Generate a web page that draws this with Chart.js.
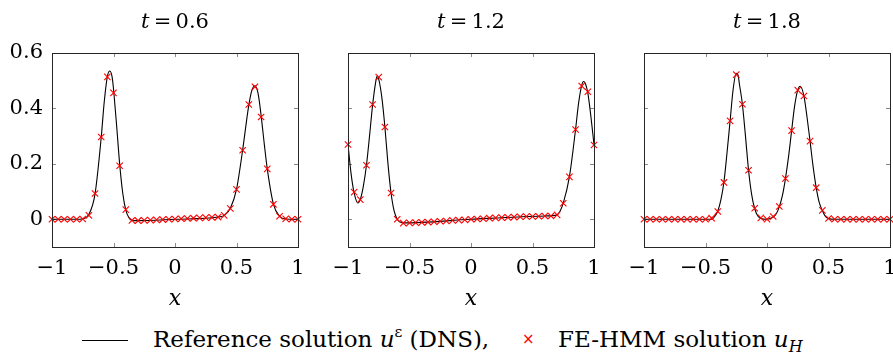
<!DOCTYPE html>
<html>
<head>
<meta charset="utf-8">
<script src="https://cdn.jsdelivr.net/npm/chart.js@4.4.1/dist/chart.umd.min.js"></script>
<style>
  html,body{margin:0;padding:0;background:#fff;overflow:hidden;}
  #wrap{position:relative;width:893px;height:354px;font-family:'DejaVu Serif',serif;color:#000;}
  canvas{position:absolute;top:0;}
  .ttl{position:absolute;top:7px;width:246px;text-align:center;font-size:21px;line-height:28px;}
  .ttl i{font-style:italic;}
  #legend{position:absolute;top:325px;left:0;width:893px;height:29px;font-size:23px;line-height:28px;}
  #legend span{position:absolute;white-space:nowrap;top:0;}
  .lsample{position:absolute;left:82px;top:15px;width:46px;height:0;border-top:1px solid #000;}
</style>
</head>
<body>
<div id="wrap">
  <canvas id="c1" width="310" height="320" style="left:0px"></canvas>
  <canvas id="c2" width="310" height="320" style="left:296px"></canvas>
  <canvas id="c3" width="310" height="320" style="left:592px"></canvas>
  <div class="ttl" style="left:52px" id="t1"></div>
  <div class="ttl" style="left:348px" id="t2"></div>
  <div class="ttl" style="left:644px" id="t3"></div>
  <div id="legend">
    <div class="lsample"></div>
    <span id="leg1" style="left:153px"></span>
    <span style="left:522px;color:#ff0000;font-size:15px;font-family:'DejaVu Sans',sans-serif;">×</span>
    <span id="leg2" style="left:558px"></span>
  </div>
</div>
<script>
// ---- data ----
const times = ['0.6', '1.2', '1.8'];
const xTicks = [-1, -0.5, 0, 0.5, 1];
const yTicks = [0, 0.2, 0.4, 0.6];

// FE-HMM marker positions
const xH = [-1, -0.95, -0.9, -0.85, -0.8, -0.75, -0.7, -0.65, -0.6, -0.55, -0.5, -0.45, -0.4, -0.35, -0.3, -0.25, -0.2, -0.15, -0.1, -0.05, 0,
            0.05, 0.1, 0.15, 0.2, 0.25, 0.3, 0.35, 0.4, 0.45, 0.5, 0.55, 0.6, 0.65, 0.7, 0.75, 0.8, 0.85, 0.9, 0.95, 1];

const uH1 = [0, 0, 0, 0, 0, 0.001, 0.014, 0.093, 0.297, 0.514, 0.456, 0.193, 0.035, -0.004, -0.005, -0.004, -0.003, -0.002, -0.001, 0, 0.001,
             0.002, 0.003, 0.004, 0.005, 0.006, 0.007, 0.008, 0.014, 0.039, 0.108, 0.249, 0.414, 0.478, 0.369, 0.182, 0.054, 0.011, 0.002, 0, 0];
const uH2 = [0.27, 0.098, 0.071, 0.195, 0.414, 0.513, 0.333, 0.095, 0.0, -0.014, -0.013, -0.012, -0.011, -0.010, -0.009, -0.007, -0.006, -0.004, -0.003, -0.002, 0,
             0.001, 0.002, 0.004, 0.005, 0.006, 0.007, 0.008, 0.009, 0.010, 0.010, 0.011, 0.012, 0.012, 0.016, 0.058, 0.153, 0.324, 0.481, 0.46, 0.268];
const uH3 = [0, 0, 0, 0, 0, 0, 0, 0, 0, 0, 0, 0.004, 0.028, 0.133, 0.355, 0.522, 0.415, 0.177, 0.040, 0.005, 0.0,
             0.01, 0.046, 0.147, 0.32, 0.466, 0.445, 0.282, 0.114, 0.032, 0.003, 0, 0, 0, 0, 0, 0, 0, 0, 0, 0];

// Reference (DNS) curve
const xR1 = [-1, -0.8, -0.75, -0.7, -0.65, -0.6, -0.575, -0.55, -0.53, -0.51, -0.5, -0.475, -0.45, -0.425, -0.4, -0.375, -0.35, -0.3, 0, 0.35, 0.4, 0.45, 0.5, 0.55, 0.6, 0.625, 0.65, 0.675, 0.7, 0.725, 0.75, 0.8, 0.85, 0.9, 1];
const uR1 = [0, 0, 0.002, 0.018, 0.092, 0.295, 0.425, 0.515, 0.535, 0.51, 0.47, 0.34, 0.2, 0.095, 0.033, 0.006, -0.004, -0.005, 0.0, 0.008, 0.014, 0.04, 0.108, 0.25, 0.412, 0.465, 0.482, 0.455, 0.375, 0.275, 0.183, 0.055, 0.011, 0.001, 0];

const xR2 = [-1, -0.975, -0.95, -0.92, -0.9, -0.875, -0.85, -0.825, -0.8, -0.775, -0.765, -0.75, -0.725, -0.7, -0.675, -0.65, -0.625, -0.6, -0.575, -0.55, 0, 0.6, 0.7, 0.725, 0.75, 0.8, 0.85, 0.875, 0.9, 0.915, 0.93, 0.95, 0.975, 1];
const uR2 = [0.27, 0.165, 0.095, 0.059, 0.072, 0.12, 0.195, 0.3, 0.412, 0.495, 0.515, 0.505, 0.44, 0.333, 0.2, 0.095, 0.03, 0.0, -0.01, -0.013, 0, 0.012, 0.016, 0.03, 0.058, 0.153, 0.324, 0.42, 0.483, 0.497, 0.49, 0.455, 0.37, 0.27];

const xR3 = [-1, -0.45, -0.425, -0.4, -0.375, -0.35, -0.325, -0.3, -0.275, -0.25, -0.235, -0.225, -0.2, -0.175, -0.15, -0.125, -0.1, -0.075, -0.05, 0, 0.05, 0.075, 0.1, 0.125, 0.15, 0.175, 0.2, 0.225, 0.25, 0.27, 0.3, 0.325, 0.35, 0.375, 0.4, 0.425, 0.45, 0.475, 0.5, 0.55, 1];
const uR3 = [0, 0, 0.01, 0.03, 0.07, 0.135, 0.24, 0.355, 0.47, 0.527, 0.52, 0.49, 0.415, 0.3, 0.177, 0.09, 0.038, 0.012, 0.003, 0.0, 0.008, 0.02, 0.045, 0.085, 0.147, 0.225, 0.319, 0.41, 0.466, 0.48, 0.445, 0.37, 0.282, 0.19, 0.114, 0.06, 0.032, 0.01, 0.003, 0, 0];

const panels = [
  {id: 'c1', xR: xR1, uR: uR1, uH: uH1, showY: true},
  {id: 'c2', xR: xR2, uR: uR2, uH: uH2, showY: false},
  {id: 'c3', xR: xR3, uR: uR3, uH: uH3, showY: false}
];

// ---- rendering ----
const SERIF = "'DejaVu Serif', serif";
const fmt = v => (v < 0 ? '\u2212' : '') + String(Math.abs(v));

document.getElementById('leg1').innerHTML = 'Reference solution <i>u</i><sup style="font-size:15px;vertical-align:0;position:relative;top:-10px;">ε</sup> (DNS),';
document.getElementById('leg2').innerHTML = 'FE-HMM solution <i>u</i><sub style="font-size:16px;vertical-align:0;position:relative;top:5px;"><i>H</i></sub>';

const framePlugin = {
  id: 'frame',
  beforeDatasetsDraw(chart) {
    const {ctx, chartArea: a, scales: {x, y}} = chart;
    ctx.save();
    ctx.strokeStyle = '#8c8c8c';
    ctx.lineWidth = 1;
    ctx.beginPath();
    xTicks.forEach(v => {
      const px = Math.round(x.getPixelForValue(v)) + 0.5;
      ctx.moveTo(px, a.top); ctx.lineTo(px, a.top + 4);
      ctx.moveTo(px, a.bottom); ctx.lineTo(px, a.bottom - 4);
    });
    yTicks.forEach(v => {
      const py = Math.round(y.getPixelForValue(v)) + 0.5;
      ctx.moveTo(a.left, py); ctx.lineTo(a.left + 4, py);
      ctx.moveTo(a.right, py); ctx.lineTo(a.right - 4, py);
    });
    ctx.stroke();
    ctx.restore();
  },
  afterDraw(chart) {
    const {ctx, chartArea: a} = chart;
    ctx.save();
    ctx.strokeStyle = '#262626';
    ctx.lineWidth = 1;
    ctx.strokeRect(Math.round(a.left) + 0.5, Math.round(a.top) + 0.5, Math.round(a.right) - Math.round(a.left), Math.round(a.bottom) - Math.round(a.top));
    ctx.restore();
  }
};

panels.forEach((p, i) => {
  document.getElementById('t' + (i + 1)).innerHTML = '<i>t</i>\u2009=\u2009' + times[i];
  new Chart(document.getElementById(p.id), {
    type: 'scatter',
    data: {
      datasets: [
        {
          label: 'FE-HMM solution',
          data: xH.map((x, k) => ({x: x, y: p.uH[k]})),
          showLine: false,
          pointStyle: 'crossRot',
          pointRadius: 4.5,
          pointBorderWidth: 1.1,
          borderColor: '#ff0000',
          backgroundColor: '#ff0000',
          clip: 8,
          order: 0
        },
        {
          label: 'Reference solution',
          data: p.xR.map((x, k) => ({x: x, y: p.uR[k]})),
          showLine: true,
          pointRadius: 0,
          borderColor: '#000000',
          borderWidth: 1.1,
          cubicInterpolationMode: 'monotone',
          order: 1
        }
      ]
    },
    options: {
      responsive: false,
      animation: false,
      devicePixelRatio: 1,
      layout: {padding: {left: 0, right: 12, top: 53, bottom: 0}},
      plugins: {legend: {display: false}, tooltip: {enabled: false}, title: {display: false}},
      scales: {
        x: {
          type: 'linear', min: -1, max: 1,
          afterBuildTicks: s => { s.ticks = xTicks.map(v => ({value: v})); },
          afterFit: s => { s.height = 73; s.paddingLeft = 0; s.paddingRight = 0; },
          grid: {display: false, drawTicks: false},
          border: {display: false},
          ticks: {color: '#000', padding: 9, font: {family: SERIF, size: 21}, callback: v => fmt(v), maxRotation: 0, autoSkip: false},
          title: {display: true, text: 'x', color: '#000', font: {family: SERIF, size: 22, style: 'italic'}, padding: {top: 0, bottom: 8}}
        },
        y: {
          type: 'linear', min: -0.1, max: 0.6,
          afterBuildTicks: s => { s.ticks = yTicks.map(v => ({value: v})); },
          afterFit: s => { s.width = 52; s.paddingTop = 0; s.paddingBottom = 0; },
          grid: {display: false, drawTicks: false},
          border: {display: false},
          ticks: {display: p.showY, color: '#000', padding: 9, font: {family: SERIF, size: 21}, callback: v => fmt(v)}
        }
      }
    },
    plugins: [framePlugin]
  });
});
</script>
</body>
</html>
